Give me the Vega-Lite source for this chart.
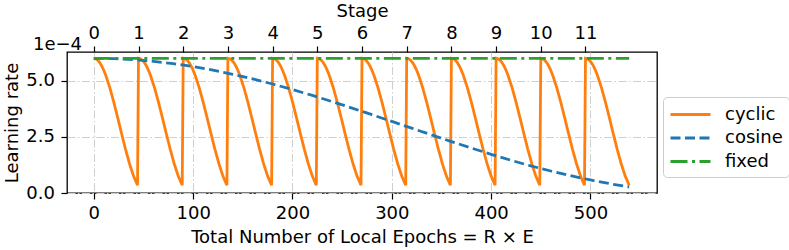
{
  "$schema": "https://vega.github.io/schema/vega-lite/v6.json",
  "width": 590,
  "height": 141,
  "autosize": {"type": "none"},
  "padding": {"left": 67, "top": 52, "right": 132, "bottom": 57},
  "background": "white",
  "title": {"text": "1e\u22124", "anchor": "start", "frame": "group", "orient": "top", "dx": -34, "dy": 56, "font": "DejaVu Sans", "fontSize": 18, "fontWeight": "normal", "color": "black"},
  "config": {
    "view": {"stroke": "black", "strokeWidth": 1.3},
    "font": "DejaVu Sans",
    "axis": {
      "labelFont": "DejaVu Sans", "labelFontSize": 18, "labelColor": "black",
      "titleFont": "DejaVu Sans", "titleFontSize": 18, "titleFontWeight": "normal", "titleColor": "black",
      "tickColor": "black", "tickSize": 6, "tickWidth": 1.2, "domain": false,
      "gridColor": "#cfcfcf", "gridWidth": 1, "gridDash": [8, 2.5, 1.5, 2.5]
    }
  },
  "datasets": {
    "lr": [
      {"schedule": "cyclic", "epoch": 0, "lr": 6.0e-4}, {"schedule": "cyclic", "epoch": 2, "lr": 5.978e-4}, {"schedule": "cyclic", "epoch": 4, "lr": 5.913e-4}, {"schedule": "cyclic", "epoch": 6, "lr": 5.805e-4}, {"schedule": "cyclic", "epoch": 8, "lr": 5.656e-4}, {"schedule": "cyclic", "epoch": 10, "lr": 5.469e-4}, {"schedule": "cyclic", "epoch": 12, "lr": 5.246e-4}, {"schedule": "cyclic", "epoch": 16, "lr": 4.704e-4}, {"schedule": "cyclic", "epoch": 20, "lr": 4.064e-4}, {"schedule": "cyclic", "epoch": 24, "lr": 3.362e-4}, {"schedule": "cyclic", "epoch": 28, "lr": 2.638e-4}, {"schedule": "cyclic", "epoch": 32, "lr": 1.936e-4}, {"schedule": "cyclic", "epoch": 36, "lr": 1.296e-4}, {"schedule": "cyclic", "epoch": 40, "lr": 0.754e-4}, {"schedule": "cyclic", "epoch": 44, "lr": 0.344e-4},
      {"schedule": "cyclic", "epoch": 45, "lr": 6.0e-4}, {"schedule": "cyclic", "epoch": 47, "lr": 5.978e-4}, {"schedule": "cyclic", "epoch": 49, "lr": 5.913e-4}, {"schedule": "cyclic", "epoch": 51, "lr": 5.805e-4}, {"schedule": "cyclic", "epoch": 53, "lr": 5.656e-4}, {"schedule": "cyclic", "epoch": 55, "lr": 5.469e-4}, {"schedule": "cyclic", "epoch": 57, "lr": 5.246e-4}, {"schedule": "cyclic", "epoch": 61, "lr": 4.704e-4}, {"schedule": "cyclic", "epoch": 65, "lr": 4.064e-4}, {"schedule": "cyclic", "epoch": 69, "lr": 3.362e-4}, {"schedule": "cyclic", "epoch": 73, "lr": 2.638e-4}, {"schedule": "cyclic", "epoch": 77, "lr": 1.936e-4}, {"schedule": "cyclic", "epoch": 81, "lr": 1.296e-4}, {"schedule": "cyclic", "epoch": 85, "lr": 0.754e-4}, {"schedule": "cyclic", "epoch": 89, "lr": 0.344e-4},
      {"schedule": "cyclic", "epoch": 90, "lr": 6.0e-4}, {"schedule": "cyclic", "epoch": 92, "lr": 5.978e-4}, {"schedule": "cyclic", "epoch": 94, "lr": 5.913e-4}, {"schedule": "cyclic", "epoch": 96, "lr": 5.805e-4}, {"schedule": "cyclic", "epoch": 98, "lr": 5.656e-4}, {"schedule": "cyclic", "epoch": 100, "lr": 5.469e-4}, {"schedule": "cyclic", "epoch": 102, "lr": 5.246e-4}, {"schedule": "cyclic", "epoch": 106, "lr": 4.704e-4}, {"schedule": "cyclic", "epoch": 110, "lr": 4.064e-4}, {"schedule": "cyclic", "epoch": 114, "lr": 3.362e-4}, {"schedule": "cyclic", "epoch": 118, "lr": 2.638e-4}, {"schedule": "cyclic", "epoch": 122, "lr": 1.936e-4}, {"schedule": "cyclic", "epoch": 126, "lr": 1.296e-4}, {"schedule": "cyclic", "epoch": 130, "lr": 0.754e-4}, {"schedule": "cyclic", "epoch": 134, "lr": 0.344e-4},
      {"schedule": "cyclic", "epoch": 135, "lr": 6.0e-4}, {"schedule": "cyclic", "epoch": 137, "lr": 5.978e-4}, {"schedule": "cyclic", "epoch": 139, "lr": 5.913e-4}, {"schedule": "cyclic", "epoch": 141, "lr": 5.805e-4}, {"schedule": "cyclic", "epoch": 143, "lr": 5.656e-4}, {"schedule": "cyclic", "epoch": 145, "lr": 5.469e-4}, {"schedule": "cyclic", "epoch": 147, "lr": 5.246e-4}, {"schedule": "cyclic", "epoch": 151, "lr": 4.704e-4}, {"schedule": "cyclic", "epoch": 155, "lr": 4.064e-4}, {"schedule": "cyclic", "epoch": 159, "lr": 3.362e-4}, {"schedule": "cyclic", "epoch": 163, "lr": 2.638e-4}, {"schedule": "cyclic", "epoch": 167, "lr": 1.936e-4}, {"schedule": "cyclic", "epoch": 171, "lr": 1.296e-4}, {"schedule": "cyclic", "epoch": 175, "lr": 0.754e-4}, {"schedule": "cyclic", "epoch": 179, "lr": 0.344e-4},
      {"schedule": "cyclic", "epoch": 180, "lr": 6.0e-4}, {"schedule": "cyclic", "epoch": 182, "lr": 5.978e-4}, {"schedule": "cyclic", "epoch": 184, "lr": 5.913e-4}, {"schedule": "cyclic", "epoch": 186, "lr": 5.805e-4}, {"schedule": "cyclic", "epoch": 188, "lr": 5.656e-4}, {"schedule": "cyclic", "epoch": 190, "lr": 5.469e-4}, {"schedule": "cyclic", "epoch": 192, "lr": 5.246e-4}, {"schedule": "cyclic", "epoch": 196, "lr": 4.704e-4}, {"schedule": "cyclic", "epoch": 200, "lr": 4.064e-4}, {"schedule": "cyclic", "epoch": 204, "lr": 3.362e-4}, {"schedule": "cyclic", "epoch": 208, "lr": 2.638e-4}, {"schedule": "cyclic", "epoch": 212, "lr": 1.936e-4}, {"schedule": "cyclic", "epoch": 216, "lr": 1.296e-4}, {"schedule": "cyclic", "epoch": 220, "lr": 0.754e-4}, {"schedule": "cyclic", "epoch": 224, "lr": 0.344e-4},
      {"schedule": "cyclic", "epoch": 225, "lr": 6.0e-4}, {"schedule": "cyclic", "epoch": 227, "lr": 5.978e-4}, {"schedule": "cyclic", "epoch": 229, "lr": 5.913e-4}, {"schedule": "cyclic", "epoch": 231, "lr": 5.805e-4}, {"schedule": "cyclic", "epoch": 233, "lr": 5.656e-4}, {"schedule": "cyclic", "epoch": 235, "lr": 5.469e-4}, {"schedule": "cyclic", "epoch": 237, "lr": 5.246e-4}, {"schedule": "cyclic", "epoch": 241, "lr": 4.704e-4}, {"schedule": "cyclic", "epoch": 245, "lr": 4.064e-4}, {"schedule": "cyclic", "epoch": 249, "lr": 3.362e-4}, {"schedule": "cyclic", "epoch": 253, "lr": 2.638e-4}, {"schedule": "cyclic", "epoch": 257, "lr": 1.936e-4}, {"schedule": "cyclic", "epoch": 261, "lr": 1.296e-4}, {"schedule": "cyclic", "epoch": 265, "lr": 0.754e-4}, {"schedule": "cyclic", "epoch": 269, "lr": 0.344e-4},
      {"schedule": "cyclic", "epoch": 270, "lr": 6.0e-4}, {"schedule": "cyclic", "epoch": 272, "lr": 5.978e-4}, {"schedule": "cyclic", "epoch": 274, "lr": 5.913e-4}, {"schedule": "cyclic", "epoch": 276, "lr": 5.805e-4}, {"schedule": "cyclic", "epoch": 278, "lr": 5.656e-4}, {"schedule": "cyclic", "epoch": 280, "lr": 5.469e-4}, {"schedule": "cyclic", "epoch": 282, "lr": 5.246e-4}, {"schedule": "cyclic", "epoch": 286, "lr": 4.704e-4}, {"schedule": "cyclic", "epoch": 290, "lr": 4.064e-4}, {"schedule": "cyclic", "epoch": 294, "lr": 3.362e-4}, {"schedule": "cyclic", "epoch": 298, "lr": 2.638e-4}, {"schedule": "cyclic", "epoch": 302, "lr": 1.936e-4}, {"schedule": "cyclic", "epoch": 306, "lr": 1.296e-4}, {"schedule": "cyclic", "epoch": 310, "lr": 0.754e-4}, {"schedule": "cyclic", "epoch": 314, "lr": 0.344e-4},
      {"schedule": "cyclic", "epoch": 315, "lr": 6.0e-4}, {"schedule": "cyclic", "epoch": 317, "lr": 5.978e-4}, {"schedule": "cyclic", "epoch": 319, "lr": 5.913e-4}, {"schedule": "cyclic", "epoch": 321, "lr": 5.805e-4}, {"schedule": "cyclic", "epoch": 323, "lr": 5.656e-4}, {"schedule": "cyclic", "epoch": 325, "lr": 5.469e-4}, {"schedule": "cyclic", "epoch": 327, "lr": 5.246e-4}, {"schedule": "cyclic", "epoch": 331, "lr": 4.704e-4}, {"schedule": "cyclic", "epoch": 335, "lr": 4.064e-4}, {"schedule": "cyclic", "epoch": 339, "lr": 3.362e-4}, {"schedule": "cyclic", "epoch": 343, "lr": 2.638e-4}, {"schedule": "cyclic", "epoch": 347, "lr": 1.936e-4}, {"schedule": "cyclic", "epoch": 351, "lr": 1.296e-4}, {"schedule": "cyclic", "epoch": 355, "lr": 0.754e-4}, {"schedule": "cyclic", "epoch": 359, "lr": 0.344e-4},
      {"schedule": "cyclic", "epoch": 360, "lr": 6.0e-4}, {"schedule": "cyclic", "epoch": 362, "lr": 5.978e-4}, {"schedule": "cyclic", "epoch": 364, "lr": 5.913e-4}, {"schedule": "cyclic", "epoch": 366, "lr": 5.805e-4}, {"schedule": "cyclic", "epoch": 368, "lr": 5.656e-4}, {"schedule": "cyclic", "epoch": 370, "lr": 5.469e-4}, {"schedule": "cyclic", "epoch": 372, "lr": 5.246e-4}, {"schedule": "cyclic", "epoch": 376, "lr": 4.704e-4}, {"schedule": "cyclic", "epoch": 380, "lr": 4.064e-4}, {"schedule": "cyclic", "epoch": 384, "lr": 3.362e-4}, {"schedule": "cyclic", "epoch": 388, "lr": 2.638e-4}, {"schedule": "cyclic", "epoch": 392, "lr": 1.936e-4}, {"schedule": "cyclic", "epoch": 396, "lr": 1.296e-4}, {"schedule": "cyclic", "epoch": 400, "lr": 0.754e-4}, {"schedule": "cyclic", "epoch": 404, "lr": 0.344e-4},
      {"schedule": "cyclic", "epoch": 405, "lr": 6.0e-4}, {"schedule": "cyclic", "epoch": 407, "lr": 5.978e-4}, {"schedule": "cyclic", "epoch": 409, "lr": 5.913e-4}, {"schedule": "cyclic", "epoch": 411, "lr": 5.805e-4}, {"schedule": "cyclic", "epoch": 413, "lr": 5.656e-4}, {"schedule": "cyclic", "epoch": 415, "lr": 5.469e-4}, {"schedule": "cyclic", "epoch": 417, "lr": 5.246e-4}, {"schedule": "cyclic", "epoch": 421, "lr": 4.704e-4}, {"schedule": "cyclic", "epoch": 425, "lr": 4.064e-4}, {"schedule": "cyclic", "epoch": 429, "lr": 3.362e-4}, {"schedule": "cyclic", "epoch": 433, "lr": 2.638e-4}, {"schedule": "cyclic", "epoch": 437, "lr": 1.936e-4}, {"schedule": "cyclic", "epoch": 441, "lr": 1.296e-4}, {"schedule": "cyclic", "epoch": 445, "lr": 0.754e-4}, {"schedule": "cyclic", "epoch": 449, "lr": 0.344e-4},
      {"schedule": "cyclic", "epoch": 450, "lr": 6.0e-4}, {"schedule": "cyclic", "epoch": 452, "lr": 5.978e-4}, {"schedule": "cyclic", "epoch": 454, "lr": 5.913e-4}, {"schedule": "cyclic", "epoch": 456, "lr": 5.805e-4}, {"schedule": "cyclic", "epoch": 458, "lr": 5.656e-4}, {"schedule": "cyclic", "epoch": 460, "lr": 5.469e-4}, {"schedule": "cyclic", "epoch": 462, "lr": 5.246e-4}, {"schedule": "cyclic", "epoch": 466, "lr": 4.704e-4}, {"schedule": "cyclic", "epoch": 470, "lr": 4.064e-4}, {"schedule": "cyclic", "epoch": 474, "lr": 3.362e-4}, {"schedule": "cyclic", "epoch": 478, "lr": 2.638e-4}, {"schedule": "cyclic", "epoch": 482, "lr": 1.936e-4}, {"schedule": "cyclic", "epoch": 486, "lr": 1.296e-4}, {"schedule": "cyclic", "epoch": 490, "lr": 0.754e-4}, {"schedule": "cyclic", "epoch": 494, "lr": 0.344e-4},
      {"schedule": "cyclic", "epoch": 495, "lr": 6.0e-4}, {"schedule": "cyclic", "epoch": 497, "lr": 5.978e-4}, {"schedule": "cyclic", "epoch": 499, "lr": 5.913e-4}, {"schedule": "cyclic", "epoch": 501, "lr": 5.805e-4}, {"schedule": "cyclic", "epoch": 503, "lr": 5.656e-4}, {"schedule": "cyclic", "epoch": 505, "lr": 5.469e-4}, {"schedule": "cyclic", "epoch": 507, "lr": 5.246e-4}, {"schedule": "cyclic", "epoch": 511, "lr": 4.704e-4}, {"schedule": "cyclic", "epoch": 515, "lr": 4.064e-4}, {"schedule": "cyclic", "epoch": 519, "lr": 3.362e-4}, {"schedule": "cyclic", "epoch": 523, "lr": 2.638e-4}, {"schedule": "cyclic", "epoch": 527, "lr": 1.936e-4}, {"schedule": "cyclic", "epoch": 531, "lr": 1.296e-4}, {"schedule": "cyclic", "epoch": 535, "lr": 0.754e-4}, {"schedule": "cyclic", "epoch": 539, "lr": 0.344e-4},
      {"schedule": "cosine", "epoch": 0, "lr": 6.0e-4}, {"schedule": "cosine", "epoch": 20, "lr": 5.985e-4}, {"schedule": "cosine", "epoch": 40, "lr": 5.940e-4}, {"schedule": "cosine", "epoch": 60, "lr": 5.865e-4}, {"schedule": "cosine", "epoch": 80, "lr": 5.761e-4}, {"schedule": "cosine", "epoch": 100, "lr": 5.629e-4}, {"schedule": "cosine", "epoch": 120, "lr": 5.471e-4}, {"schedule": "cosine", "epoch": 140, "lr": 5.287e-4}, {"schedule": "cosine", "epoch": 160, "lr": 5.081e-4}, {"schedule": "cosine", "epoch": 180, "lr": 4.854e-4}, {"schedule": "cosine", "epoch": 200, "lr": 4.608e-4}, {"schedule": "cosine", "epoch": 220, "lr": 4.345e-4}, {"schedule": "cosine", "epoch": 240, "lr": 4.069e-4}, {"schedule": "cosine", "epoch": 260, "lr": 3.783e-4}, {"schedule": "cosine", "epoch": 280, "lr": 3.488e-4}, {"schedule": "cosine", "epoch": 300, "lr": 3.188e-4}, {"schedule": "cosine", "epoch": 320, "lr": 2.887e-4}, {"schedule": "cosine", "epoch": 340, "lr": 2.587e-4}, {"schedule": "cosine", "epoch": 360, "lr": 2.291e-4}, {"schedule": "cosine", "epoch": 380, "lr": 2.002e-4}, {"schedule": "cosine", "epoch": 400, "lr": 1.723e-4}, {"schedule": "cosine", "epoch": 420, "lr": 1.457e-4}, {"schedule": "cosine", "epoch": 440, "lr": 1.205e-4}, {"schedule": "cosine", "epoch": 460, "lr": 0.980e-4}, {"schedule": "cosine", "epoch": 480, "lr": 0.770e-4}, {"schedule": "cosine", "epoch": 500, "lr": 0.580e-4}, {"schedule": "cosine", "epoch": 520, "lr": 0.410e-4}, {"schedule": "cosine", "epoch": 539, "lr": 0.272e-4},
      {"schedule": "fixed", "epoch": 0, "lr": 6.0e-4}, {"schedule": "fixed", "epoch": 539, "lr": 6.0e-4}
    ],
    "stages": [
      {"stage": 0}, {"stage": 1}, {"stage": 2}, {"stage": 3}, {"stage": 4}, {"stage": 5},
      {"stage": 6}, {"stage": 7}, {"stage": 8}, {"stage": 9}, {"stage": 10}, {"stage": 11}
    ]
  },
  "layer": [
    {
      "data": {"name": "lr"},
      "mark": {"type": "line", "strokeWidth": 2.8},
      "encoding": {
        "x": {
          "field": "epoch", "type": "quantitative",
          "scale": {"domain": [-27, 567], "nice": false, "zero": false},
          "axis": {"orient": "bottom", "values": [0, 100, 200, 300, 400, 500], "title": "Total Number of Local Epochs = R \u00d7 E", "grid": true, "labelPadding": 5, "titlePadding": 6}
        },
        "y": {
          "field": "lr", "type": "quantitative",
          "scale": {"domain": [0, 0.000628], "nice": false, "zero": false},
          "axis": {"values": [0, 0.00025, 0.0005], "labelExpr": "format(datum.value * 10000, '.1f')", "title": "Learning rate", "grid": true, "labelPadding": 6.5, "titlePadding": 4}
        },
        "color": {
          "field": "schedule", "type": "nominal",
          "scale": {"domain": ["cyclic", "cosine", "fixed"], "range": ["#ff7f0e", "#1f77b4", "#2ca02c"]},
          "legend": {
            "title": null, "orient": "none", "legendX": 596, "legendY": 45,
            "strokeColor": "#cccccc", "cornerRadius": 4, "fillColor": "white", "padding": 6,
            "symbolType": "M-1,0H3", "symbolSize": 400, "symbolStrokeWidth": 2.8,
            "labelFont": "DejaVu Sans", "labelFontSize": 18, "labelColor": "black", "labelOffset": 33, "rowPadding": 2.5
          }
        },
        "strokeDash": {
          "field": "schedule", "type": "nominal",
          "scale": {"domain": ["cyclic", "cosine", "fixed"], "range": [[1, 0], [10, 4.5], [17, 4.5, 3, 4.5]]},
          "legend": {
            "title": null, "orient": "none", "legendX": 596, "legendY": 45,
            "strokeColor": "#cccccc", "cornerRadius": 4, "fillColor": "white", "padding": 6,
            "symbolType": "M-1,0H3", "symbolSize": 400, "symbolStrokeWidth": 2.8,
            "labelFont": "DejaVu Sans", "labelFontSize": 18, "labelColor": "black", "labelOffset": 33, "rowPadding": 2.5
          }
        }
      }
    },
    {
      "data": {"name": "stages"},
      "mark": {"type": "point", "opacity": 0},
      "encoding": {
        "x": {
          "field": "stage", "type": "quantitative",
          "scale": {"domain": [-0.6, 12.6], "nice": false, "zero": false},
          "axis": {"orient": "top", "values": [0, 1, 2, 3, 4, 5, 6, 7, 8, 9, 10, 11], "title": "Stage", "grid": false, "labelPadding": 4, "titlePadding": 4}
        }
      }
    }
  ],
  "resolve": {"scale": {"x": "independent"}, "axis": {"x": "independent"}}
}
